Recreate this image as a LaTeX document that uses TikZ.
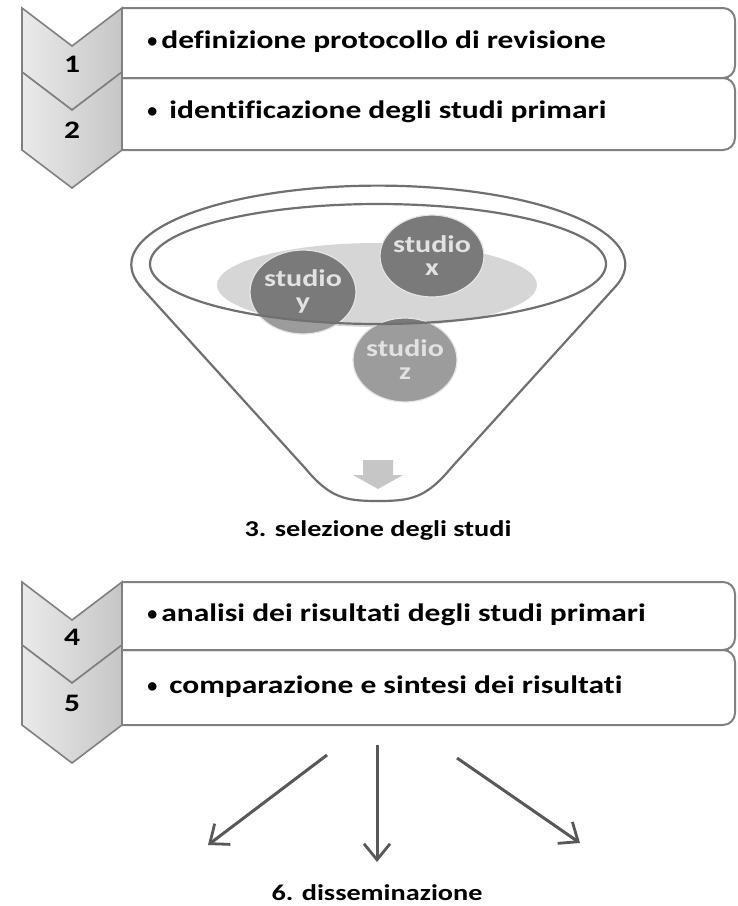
\documentclass[tikz,border=0pt]{standalone}
\usepackage{fontspec}
\setmainfont{Carlito}[Ligatures=CommonOff]
\usepackage{graphicx}
\usetikzlibrary{arrows.meta, positioning}

\newcommand{\wide}[1]{\scalebox{1.25}[1]{#1}}
\newcommand{\stepbullet}{\raisebox{0.5pt}{\fontsize{10}{10}\selectfont•}}
\newcommand{\chevron}[2]{\draw[chevron] (22,#1) -- (72,#1+38) -- (122,#1) -- (122,#2) -- (72,#2+38) -- (22,#2) -- cycle;}

\definecolor{linegray}{RGB}{112,112,112}
\definecolor{boxline}{RGB}{128,128,128}
\definecolor{chevlight}{RGB}{234,234,234}
\definecolor{chevdark}{RGB}{198,198,198}
\definecolor{studiodark}{RGB}{122,122,122}
\definecolor{studiomid}{RGB}{156,156,156}
\definecolor{panlight}{RGB}{214,214,214}
\definecolor{studiotext}{RGB}{226,226,226}
\definecolor{arrowgray}{RGB}{88,88,88}

\tikzset{
  chevron/.style={draw=boxline, line width=0.8pt, left color=chevlight, right color=chevdark},
  stepline/.style={draw=boxline, line width=1pt, rounded corners=6pt},
  boxtext/.style={anchor=west, inner sep=0pt, font=\fontsize{12.6}{15}\selectfont\bfseries},
  steplabel/.style={inner sep=0pt, font=\fontsize{12.6}{15}\selectfont\bfseries},
  funnel/.style={draw=linegray, line width=1.1pt},
  studioedge/.style={draw=white!80!gray, line width=0.6pt},
  studiolabel/.style={inner sep=0pt, align=center, text=studiotext, font=\fontsize{12}{11.5}\selectfont\bfseries},
  steptitle/.style={inner sep=0pt, font=\fontsize{11.3}{14}\selectfont\bfseries},
  spread/.style={draw=arrowgray, line width=1.5pt, -{Straight Barb[length=8pt, width=13pt, line width=1.4pt]}}
}

\begin{document}
\begin{tikzpicture}[x=0.5pt, y=-0.5pt]
  \useasboundingbox (0,0) rectangle (738,906);

  % steps 1 and 2
  \draw[stepline] (122,8) -- (735,8) -- (735,78) -- (122,78);
  \draw[stepline] (122,78) -- (735,78) -- (735,150) -- (122,150);
  \chevron{8}{72}
  \chevron{72}{150}
  \node[steplabel] (n1) at (72,64) {\wide{1}};
  \node[steplabel] (n2) at (72,130) {\wide{2}};
  \node[boxtext] (t1) at (147,42) {\stepbullet\hspace{2pt}\wide{definizione protocollo di revisione}};
  \node[boxtext] (t2) at (147,112) {\stepbullet\hspace{6pt}\wide{identificazione degli studi primari}};

  % funnel
  \draw[funnel, fill=white] (140,286) -- (305,468) .. controls (330,498) and (345,501) .. (378,501)
    .. controls (411,501) and (426,498) .. (451,468) -- (616,286)
    arc[start angle=15.7, end angle=-195.7, x radius=247, y radius=79] -- cycle;
  \fill[panlight] (377,285) ellipse[x radius=160, y radius=42];
  \fill[studiomid] (303,292) ellipse[x radius=53, y radius=42];
  \fill[studiomid] (405,360) ellipse[x radius=52, y radius=42];
  \begin{scope}
    \clip (378,264) ellipse[x radius=228, y radius=60];
    \fill[studiodark] (303,292) ellipse[x radius=53, y radius=42];
    \fill[studiodark] (405,360) ellipse[x radius=52, y radius=42];
  \end{scope}
  \fill[studiodark] (432,256) ellipse[x radius=52, y radius=41];
  \draw[studioedge] (303,292) ellipse[x radius=53, y radius=42];
  \draw[studioedge] (405,360) ellipse[x radius=52, y radius=42];
  \draw[studioedge] (432,256) ellipse[x radius=52, y radius=41];
  \draw[funnel] (378,264) ellipse[x radius=228, y radius=60];
  \fill[gray!45] (363,460) -- (393,460) -- (393,475) -- (403,475) -- (378,489) -- (353,475) -- (363,475) -- cycle;

  \node[studiolabel] (sx) at (432,256) {\wide{studio}\\\wide{x}};
  \node[studiolabel] (sy) at (303,291) {\wide{studio}\\\wide{y}};
  \node[studiolabel] (sz) at (405,360) {\wide{studio}\\\wide{z}};
  \node[steptitle] (sel) at (378,530) {\wide{3. selezione degli studi}};

  % steps 4 and 5
  \draw[stepline] (122,582) -- (735,582) -- (735,650) -- (122,650);
  \draw[stepline] (122,650) -- (735,650) -- (735,725) -- (122,725);
  \chevron{582}{645}
  \chevron{645}{725}
  \node[steplabel] (n4) at (72,637) {\wide{4}};
  \node[steplabel] (n5) at (72,703) {\wide{5}};
  \node[boxtext] (t4) at (147,615) {\stepbullet\hspace{2pt}\wide{analisi dei risultati degli studi primari}};
  \node[boxtext] (t5) at (147,687) {\stepbullet\hspace{6pt}\wide{comparazione e sintesi dei risultati}};

  % dissemination
  \coordinate (l0) at (327,755);
  \coordinate (l1) at (208,845);
  \coordinate (m0) at (377,745);
  \coordinate (m1) at (377,862);
  \coordinate (r0) at (457,758);
  \coordinate (r1) at (580,843);
  \draw[spread] (l0) -- (l1);
  \draw[spread] (m0) -- (m1);
  \draw[spread] (r0) -- (r1);
  \node[steptitle] (dis) at (377,893) {\wide{6. disseminazione}};
\end{tikzpicture}
\end{document}
